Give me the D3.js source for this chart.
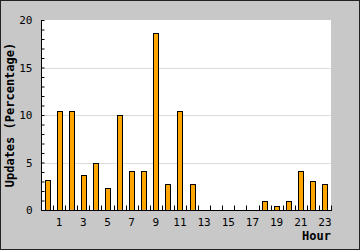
<!DOCTYPE html>
<html><head><meta charset="utf-8">
<script src="https://cdn.jsdelivr.net/npm/d3@7"></script>
<style>html,body{margin:0;padding:0;background:#c8c8c8;}svg{display:block;}</style>
</head><body><svg id="c" width="360" height="250"></svg>
<script>
const hours = d3.range(0, 24);
const values = [3.2, 10.4, 10.4, 3.7, 4.9, 2.3, 10.0, 4.1, 4.1, 18.6, 2.7, 10.4, 2.7, 0, 0, 0, 0, 0, 0.95, 0.42, 0.95, 4.1, 3.1, 2.7];
const yTicks = [0, 5, 10, 15, 20];
const xLabels = [1, 3, 5, 7, 9, 11, 13, 15, 17, 19, 21, 23];

const svg = d3.select("#c");
const W = 360, H = 250;
const m = {l: 41, r: 29, t: 20, b: 40};
svg.append("rect").attr("x", 0.5).attr("y", 0.5).attr("width", W - 1).attr("height", H - 1)
  .attr("fill", "#c8c8c8").attr("stroke", "#222");
const x = d3.scaleBand().domain(hours).range([m.l, W - m.r]);
const y = d3.scaleLinear().domain([0, 20]).range([H - m.b, m.t]);

svg.append("rect").attr("x", m.l).attr("y", m.t).attr("width", W - m.l - m.r).attr("height", H - m.t - m.b).attr("fill", "#fff");

// gridlines
svg.append("g").selectAll("line").data(yTicks.filter(d => d > 0 && d < 20)).join("line")
  .attr("x1", m.l).attr("x2", W - m.r).attr("y1", d => Math.round(y(d)) + 0.5).attr("y2", d => Math.round(y(d)) + 0.5)
  .attr("stroke", "#dcdcdc");

// bars
svg.append("g").selectAll("rect").data(values).join("rect")
  .attr("x", (d, i) => Math.round(x(hours[i]) + x.bandwidth() / 2 - 2.5) + 0.5)
  .attr("width", 5)
  .attr("y", d => Math.round(y(d)) + 0.5)
  .attr("height", d => Math.max(0, y(0) - Math.round(y(d))))
  .attr("fill", "#ffa500").attr("stroke", "#000").attr("stroke-width", 1)
  .attr("display", d => d > 0 ? null : "none");

// y axis
const ya = d3.axisLeft(y).tickValues(d3.range(0, 21, 1)).tickSize(-3).tickFormat(d => yTicks.includes(d) ? d : "").tickPadding(9);
const gy = svg.append("g").attr("transform", `translate(${m.l + 0.5},0)`).call(ya);
gy.select(".domain").attr("d", `M0,${m.t}V${H - m.b}`).attr("stroke", "#000");
gy.selectAll(".tick line").attr("stroke", "#000");
gy.selectAll("text").attr("font-family", "DejaVu Sans Mono").attr("font-size", 11).attr("fill", "#000");

// x axis
const gx = svg.append("g").attr("transform", `translate(0,${H - m.b + 0.5})`);
gx.append("line").attr("x1", m.l).attr("x2", W - m.r + 1).attr("stroke", "#000");
gx.selectAll("line.t").data(hours.slice(1).concat([24])).join("line").attr("class", "t")
  .attr("x1", d => Math.round(m.l + d * x.step()) + 0.5).attr("x2", d => Math.round(m.l + d * x.step()) + 0.5)
  .attr("y1", 0).attr("y2", -5).attr("stroke", "#000");
gx.selectAll("text").data(xLabels).join("text")
  .attr("x", d => x(d) + x.bandwidth() / 2).attr("y", 15)
  .attr("text-anchor", "middle").attr("font-family", "DejaVu Sans Mono").attr("font-size", 11).text(d => d);

svg.append("text").attr("transform", `translate(14,${(m.t + H - m.b) / 2}) rotate(-90)`)
  .attr("text-anchor", "middle").attr("font-family", "DejaVu Sans Mono").attr("font-weight", "bold").attr("font-size", 12)
  .text("Updates (Percentage)");
svg.append("text").attr("x", W - m.r).attr("y", 240).attr("text-anchor", "end")
  .attr("font-family", "DejaVu Sans Mono").attr("font-weight", "bold").attr("font-size", 12).text("Hour");
</script></body></html>
